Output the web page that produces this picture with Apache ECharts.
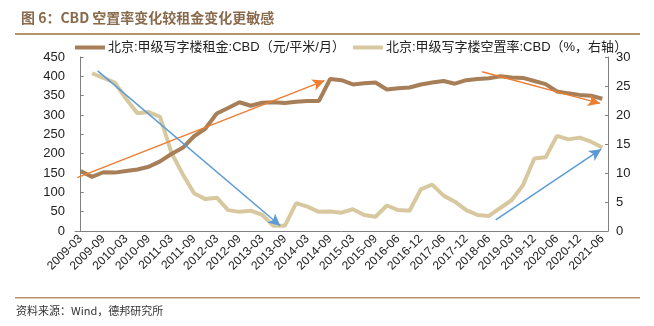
<!DOCTYPE html>
<html><head><meta charset="utf-8">
<script src="https://cdn.jsdelivr.net/npm/echarts@6/dist/echarts.min.js"></script>
<style>html,body{margin:0;padding:0;background:#fff}#c{width:654px;height:326px}</style>
</head><body><div id="c"></div>
<script>
const categories = ['2009-03','2009-06','2009-09','2009-12','2010-03','2010-06','2010-09','2010-12','2011-03','2011-06','2011-09','2011-12','2012-03','2012-06','2012-09','2012-12','2013-03','2013-06','2013-09','2013-12','2014-03','2014-06','2014-09','2014-12','2015-03','2015-06','2015-09','2015-12','2016-06','2016-09','2016-12','2017-03','2017-06','2017-09','2017-12','2018-03','2018-06','2018-09','2019-03','2019-06','2019-12','2020-03','2020-06','2020-09','2020-12','2021-03','2021-06'];
const rent = [155,140,152,151,155,159,166,180,199,215,245,265,304,318,333,324,332,333,331,334,336,336,393,390,379,382,384,366,369,371,379,384,388,381,390,393,395,400,397,396,388,380,361,356,352,350,342];
const vacancy = [null,27.2,26.4,25.6,22.8,20.3,20.5,19.7,13.5,9.8,6.5,5.5,5.75,3.6,3.3,3.5,2.8,0.9,0.9,4.8,4.2,3.3,3.35,3.16,3.75,2.76,2.45,4.4,3.6,3.5,7.2,8.0,6.1,5.06,3.6,2.76,2.6,3.97,5.3,7.9,12.5,12.7,16.4,15.8,16.1,15.4,14.4];
const rentName = '北京:甲级写字楼租金:CBD（元/平米/月）';
const vacName = '北京:甲级写字楼空置率:CBD（%，右轴）';
// annotation arrows: [[catIndexStart, valueStart], [catIndexEnd, valueEnd]]
const orangeArrows = [[[-0.3,138],[21.5,389]], [[35.4,412],[45.8,330]]];
const blueArrows = [[[1.5,27.6],[17.6,0.9]], [[36.6,1.9],[45.9,14.1]]];

const FONT = '"Liberation Sans", "Noto Sans CJK SC", sans-serif';
const chart = echarts.init(document.getElementById('c'));
function arrowLines(list){ return list.map(a => [{coord:a[0]},{coord:a[1]}]); }
chart.setOption({
  animation:false,
  textStyle:{fontFamily:FONT},
  title:{text:'图 6：CBD 空置率变化较租金变化更敏感', left:16, top:6,
    textStyle:{fontSize:14, fontWeight:'bold', color:'#8a6a4c', fontFamily:'"Noto Sans CJK SC", sans-serif'}},
  graphic:[
    {type:'rect', shape:{x:15,y:33,width:625,height:2}, style:{fill:'#b8926a'}},
    {type:'rect', shape:{x:15,y:297,width:625,height:1.5}, style:{fill:'#b8926a'}},
    {type:'text', left:16, top:305, style:{text:'资料来源：Wind，德邦研究所', fontSize:11, fill:'#333', fontFamily:'"Noto Sans CJK SC", sans-serif'}}
  ],
  legend:{data:[rentName, vacName], top:36, left:70, icon:'rect', itemWidth:30, itemHeight:4, itemGap:8,
    textStyle:{fontSize:13, color:'#222', fontFamily:FONT, padding:[0,0,0,-2]}},
  grid:{left:75, right:46, top:57, bottom:95},
  xAxis:[
    {type:'category', data:categories, boundaryGap:true,
     axisLine:{lineStyle:{color:'#808080'}},
     axisTick:{interval:0, inside:true, length:4, lineStyle:{color:'#808080'}},
     axisLabel:{interval:1, rotate:45, fontSize:12, color:'#222', margin:6, fontFamily:FONT}},
    {type:'value', min:-0.5, max:46.5, show:false}
  ],
  yAxis:[
    {type:'value', min:0, max:450, interval:50, splitLine:{show:false},
     axisLine:{show:true, lineStyle:{color:'#808080'}},
     axisTick:{show:true, inside:true, length:3, lineStyle:{color:'#808080'}},
     axisLabel:{fontSize:13, color:'#222', margin:10, fontFamily:FONT}},
    {type:'value', min:0, max:30, interval:5, splitLine:{show:false},
     axisLine:{show:true, lineStyle:{color:'#808080'}},
     axisTick:{show:true, inside:true, length:3, lineStyle:{color:'#808080'}},
     axisLabel:{fontSize:13, color:'#222', margin:8, fontFamily:FONT}}
  ],
  series:[
    {name:rentName, type:'line', data:rent, yAxisIndex:0, symbol:'none',
     lineStyle:{width:4, color:'#a67f58'}, itemStyle:{color:'#a67f58'}, z:3},
    {name:vacName, type:'line', data:vacancy, yAxisIndex:1, symbol:'none',
     lineStyle:{width:4, color:'#d8c8a0'}, itemStyle:{color:'#d8c8a0'}, z:2},
    {name:'arrowsL', type:'line', xAxisIndex:1, yAxisIndex:0, data:[], z:5,
     markLine:{silent:true, symbol:['none','arrow'], symbolSize:[9,12], label:{show:false},
       lineStyle:{color:'#ed7d31', width:1.5, type:'solid'}, data:arrowLines(orangeArrows)}},
    {name:'arrowsR', type:'line', xAxisIndex:1, yAxisIndex:1, data:[], z:5,
     markLine:{silent:true, symbol:['none','arrow'], symbolSize:[9,12], label:{show:false},
       lineStyle:{color:'#5b9bd5', width:1.5, type:'solid'}, data:arrowLines(blueArrows)}}
  ]
});
</script></body></html>
